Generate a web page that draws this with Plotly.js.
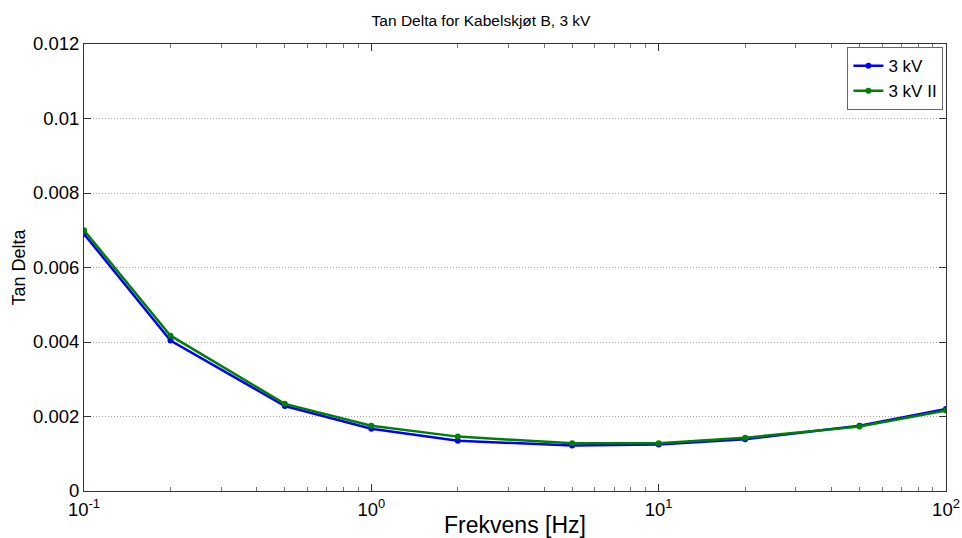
<!DOCTYPE html>
<html>
<head>
<meta charset="utf-8">
<script src="https://cdn.plot.ly/plotly-3.0.1.min.js"></script>
<style>html,body{margin:0;padding:0;background:#fff;}#chart{width:962px;height:538px;}</style>
</head>
<body>
<div id="chart"></div>
<script>
const freq = [0.1, 0.2, 0.5, 1, 2, 5, 10, 20, 50, 100];
const tan3kV = [0.00690, 0.00404, 0.00228, 0.00167, 0.00135, 0.00122, 0.00125, 0.00139, 0.00175, 0.00220];
const tan3kVII = [0.00700, 0.00417, 0.00234, 0.00175, 0.00146, 0.00128, 0.00128, 0.00143, 0.00173, 0.00216];
const xTickVals = [0.1, 1, 10, 100];
const xTickText = ['10<sup>-1</sup>', '10<sup>0</sup>', '10<sup>1</sup>', '10<sup>2</sup>'];
const seriesNames = ['3 kV', '3 kV II'];

const font = 'Liberation Sans, Arial, sans-serif';
const traces = [
  {x: freq, y: tan3kV, name: seriesNames[0], mode: 'lines+markers',
   line: {color: '#0000ff', width: 2.5}, marker: {color: '#0000ff', size: 6}},
  {x: freq, y: tan3kVII, name: seriesNames[1], mode: 'lines+markers',
   line: {color: '#008000', width: 2.5}, marker: {color: '#008000', size: 6}}
];
const layout = {
  width: 962, height: 538,
  margin: {l: 84, r: 16, t: 44, b: 47},
  paper_bgcolor: '#fff', plot_bgcolor: '#fff',
  font: {family: font, color: '#000'},
  title: {text: 'Tan Delta for Kabelskjøt B, 3 kV', font: {size: 15.5, family: font}, x: 0.5, xanchor: 'center', y: 0.962, yanchor: 'middle'},
  showlegend: true,
  legend: {x: 0.997, y: 0.993, xanchor: 'right', yanchor: 'top', bgcolor: '#fff', bordercolor: '#666', borderwidth: 1,
    font: {size: 17, family: font}, tracegroupgap: 0, itemwidth: 30},
  xaxis: {
    type: 'log', range: [-1, 2], autorange: false,
    tickmode: 'array', tickvals: xTickVals, ticktext: xTickText,
    ticks: 'inside', ticklen: 7, tickcolor: '#333', tickfont: {size: 18.5, family: font},
    ticklabelstandoff: 2,
    minor: {dtick: 'D1', ticks: 'inside', ticklen: 4, tickcolor: '#777', showgrid: false},
    showgrid: false, zeroline: false,
    showline: true, linecolor: '#333', linewidth: 1, mirror: 'ticks',
    title: {text: 'Frekvens [Hz]', font: {size: 23, family: font}, standoff: 0}
  },
  yaxis: {
    range: [0, 0.012], autorange: false, dtick: 0.002, tick0: 0,
    ticks: 'inside', ticklen: 7, tickcolor: '#333', tickfont: {size: 18.5, family: font},
    showgrid: true, gridcolor: '#a8a8a8', griddash: '1px,2px', gridwidth: 1, zeroline: false,
    showline: true, linecolor: '#333', linewidth: 1, mirror: 'ticks',
    title: {text: 'Tan Delta', font: {size: 18, family: font}, standoff: 2}
  }
};
Plotly.newPlot('chart', traces, layout, {displayModeBar: false, staticPlot: true});
</script>
</body>
</html>
